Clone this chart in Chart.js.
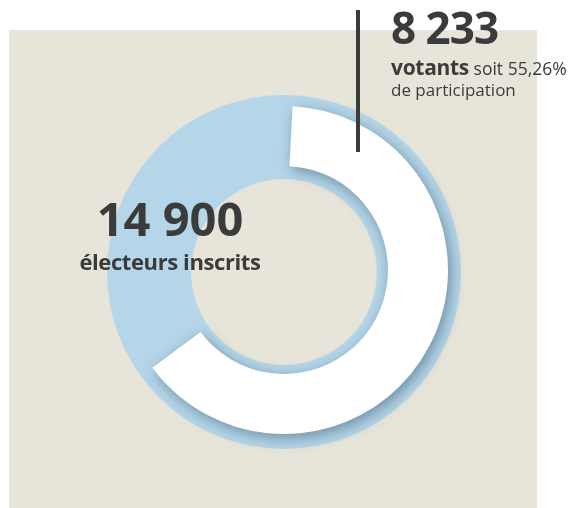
<!DOCTYPE html>
<html lang="fr">
<head>
<meta charset="utf-8">
<script src="https://cdn.jsdelivr.net/npm/chart.js@4.4.1/dist/chart.umd.min.js"></script>
<style>
  body { margin: 0; width: 571px; height: 508px; background: #fff; position: relative; overflow: hidden;
         font-family: "Open Sans", "Noto Sans", sans-serif; color: #3b3b3b; }
  #fond { position: absolute; left: 9px; top: 30px; width: 528px; height: 478px; background: #e7e4d9; }
  .anneau { position: absolute; width: 420px; height: 420px; }
  #anneau-bleu { left: 74px; top: 62px; }
  #anneau-blanc { left: 74px; top: 60px; }
  #trait { position: absolute; left: 356px; top: 10px; width: 4px; height: 142px; background: #3b3b3b; }
  #votants { position: absolute; left: 391px; top: 0px; line-height: 1; white-space: nowrap; }
  #votants .chiffre { font-size: 44px; font-weight: 700; letter-spacing: -1px; display: block; margin-top: 5px; }
  #votants .ligne { font-size: 17.5px; display: block; margin-top: 8px; }
  #votants .ligne b { font-size: 21px; letter-spacing: -0.3px; }
  #votants .ligne2 { font-size: 17px; display: block; margin-top: 3px; }
  #inscrits { position: absolute; left: 70px; top: 195px; width: 200px; text-align: center; line-height: 1; white-space: nowrap; }
  #inscrits .chiffre { font-size: 47px; font-weight: 700; display: block; }
  #inscrits .ligne { font-size: 22px; font-weight: 700; display: block; margin-top: 8px; letter-spacing: -0.4px; }
</style>
</head>
<body>
<div id="fond"></div>
<div class="anneau" id="anneau-bleu"><canvas id="bleu"></canvas></div>
<div class="anneau" id="anneau-blanc"><canvas id="blanc"></canvas></div>
<div id="trait"></div>
<div id="votants">
  <span class="chiffre" id="txt-votants"></span>
  <span class="ligne"><b>votants</b> soit <span id="txt-taux"></span></span>
  <span class="ligne2">de participation</span>
</div>
<div id="inscrits">
  <span class="chiffre" id="txt-inscrits"></span>
  <span class="ligne">électeurs inscrits</span>
</div>
<script>
// chiffres affichés
const inscrits = 14900;
const votants = 8233;
const tauxParticipation = 55.26;

// anneau blanc (part) et anneau bleu complet
const segments = ['votants', 'reste'];
const partAnneau = [64, 36];
const anneauComplet = [inscrits];

function milliers(n) {
  return String(n).replace(/\B(?=(\d{3})+(?!\d))/g, ' ');
}
document.getElementById('txt-votants').textContent = milliers(votants);
document.getElementById('txt-inscrits').textContent = milliers(inscrits);
document.getElementById('txt-taux').textContent = String(tauxParticipation).replace('.', ',') + '%';

// ombre portée sous l'anneau blanc
const ombre = {
  id: 'ombre',
  beforeDatasetsDraw(chart) {
    const ctx = chart.ctx;
    ctx.save();
    ctx.shadowColor = 'rgba(55,85,110,0.55)';
    ctx.shadowBlur = 14;
    ctx.shadowOffsetX = 3;
    ctx.shadowOffsetY = 4;
  },
  afterDatasetsDraw(chart) {
    chart.ctx.restore();
  }
};

const communes = {
  responsive: true,
  maintainAspectRatio: false,
  animation: false,
  events: [],
  plugins: { legend: { display: false }, tooltip: { enabled: false } }
};

new Chart(document.getElementById('bleu').getContext('2d'), {
  type: 'doughnut',
  data: {
    labels: ['inscrits'],
    datasets: [{ data: anneauComplet, backgroundColor: ['#b4d6e8'], borderWidth: 0 }]
  },
  options: { ...communes, radius: 177, cutout: '52.5%' }
});

new Chart(document.getElementById('blanc').getContext('2d'), {
  type: 'doughnut',
  data: {
    labels: segments,
    datasets: [{ data: partAnneau, backgroundColor: ['#ffffff', 'rgba(0,0,0,0)'], borderWidth: 0 }]
  },
  options: { ...communes, radius: 164, cutout: '63.4%', rotation: 3 },
  plugins: [ombre]
});
</script>
</body>
</html>
